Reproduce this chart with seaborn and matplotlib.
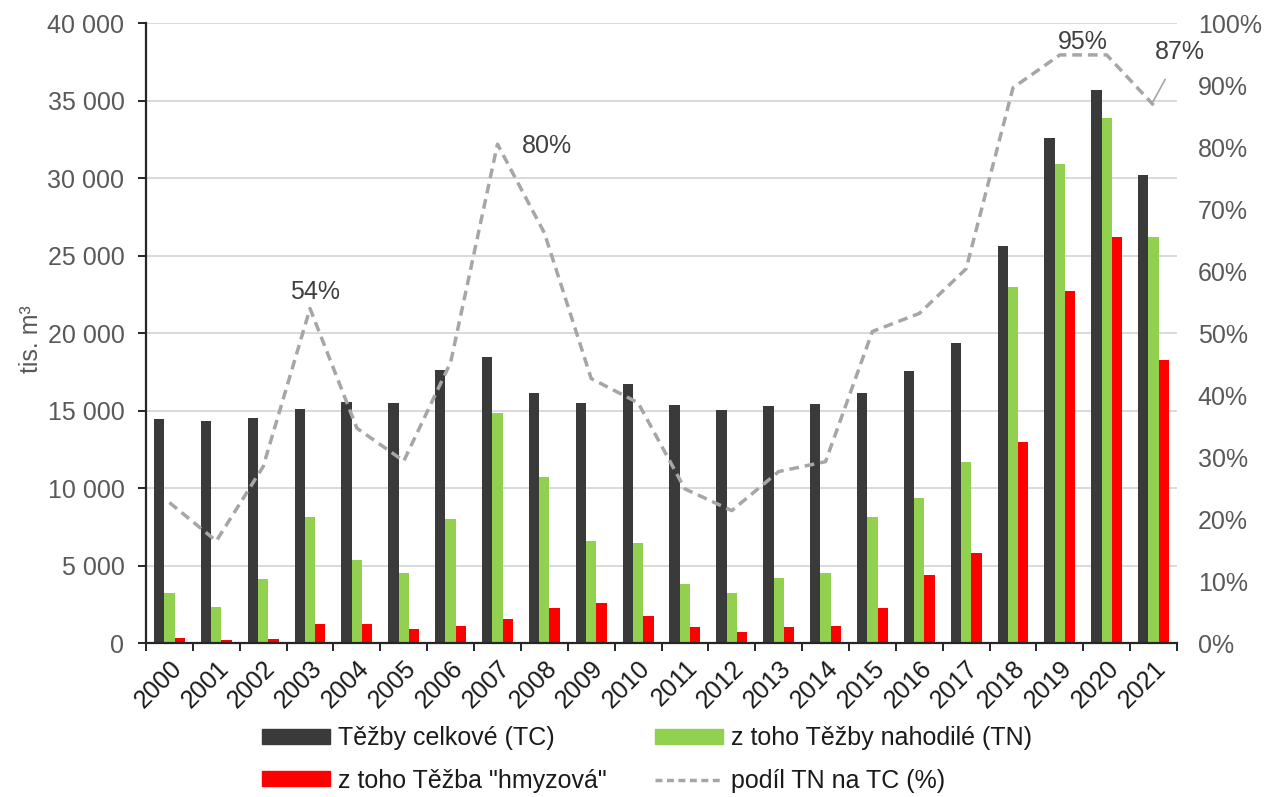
import matplotlib
matplotlib.use("Agg")
import matplotlib.pyplot as plt
import seaborn as sns
import numpy as np
import pandas as pd
from matplotlib.ticker import FuncFormatter, MultipleLocator
from matplotlib.patches import Patch
from matplotlib.lines import Line2D

# ---------------- data ----------------
years = [str(y) for y in range(2000, 2022)]
tc = [14450, 14360, 14530, 15130, 15570, 15480, 17630, 18490, 16170, 15480, 16730,
      15360, 15050, 15310, 15460, 16170, 17590, 19400, 25650, 32580, 35700, 30230]
tn = [3270, 2360, 4170, 8170, 5380, 4520, 8000, 14880, 10710, 6600, 6450,
      3810, 3230, 4230, 4520, 8130, 9360, 11720, 23010, 30930, 33890, 26230]
hm = [320, 210, 280, 1250, 1250, 950, 1120, 1550, 2280, 2620, 1760,
      1070, 750, 1030, 1120, 2300, 4390, 5850, 13010, 22750, 26230, 18280]
pct = [22.7, 16.5, 28.5, 54, 34.7, 29.4, 45.3, 80.5, 66.2, 42.7, 38.8,
       24.9, 21.4, 27.7, 29.3, 50.3, 53.2, 60.4, 89.6, 94.9, 94.9, 86.8]
series_names = ["Těžby celkové (TC)", "z toho Těžby nahodilé (TN)", 'z toho Těžba "hmyzová"']
line_name = "podíl TN na TC (%)"
annot_labels = {3: "54%", 7: "80%", 19: "95%", 21: "87%"}

colors = ["#3a3a3a", "#92d050", "#ff0000"]
line_color = "#a6a6a6"
text_gray = "#595959"
FS = 18

sns.set_theme(style="white")
plt.rcParams["font.family"] = ["Liberation Sans", "DejaVu Sans"]

df = pd.DataFrame({
    "year": years * 3,
    "value": tc + tn + hm,
    "series": [series_names[0]] * len(years) + [series_names[1]] * len(years) + [series_names[2]] * len(years),
})

fig = plt.figure(figsize=(12.67, 7.97), dpi=100)
ax = fig.add_axes([146 / 1267, 1 - 643.3 / 797, (1177 - 146) / 1267, 620 / 797])

sns.barplot(data=df, x="year", y="value", hue="series", hue_order=series_names,
            palette=colors, width=0.66, gap=0, saturation=1, ax=ax, legend=False,
            edgecolor="none", linewidth=0, errorbar=None)

ax.set_xlim(-0.5, len(years) - 0.5)
ax.set_ylim(0, 40000)
ax.yaxis.set_major_locator(MultipleLocator(5000))
ax.yaxis.set_major_formatter(FuncFormatter(lambda v, p: f"{int(v):,}".replace(",", " ")))
ax.grid(axis="y", color="#d9d9d9", lw=1.4)
ax.grid(axis="x", visible=False)
ax.set_axisbelow(True)
for s in ["top", "right"]:
    ax.spines[s].set_visible(False)
for s in ["left", "bottom"]:
    ax.spines[s].set_color("#262626")
    ax.spines[s].set_linewidth(1.6)

ax.set_xticks(np.arange(len(years)))
ax.set_xticklabels(years, rotation=45, ha="right", rotation_mode="anchor",
                   fontsize=FS, color="#1a1a1a")
ax.set_xticks(np.arange(-0.5, len(years), 1), minor=True)
ax.tick_params(axis="x", which="major", length=0, pad=9)
ax.tick_params(axis="x", which="minor", length=6, width=1.4, color="#262626", direction="out", bottom=True)
ax.tick_params(axis="y", length=6, width=1.4, color="#262626", direction="out", left=True,
               labelsize=FS, labelcolor=text_gray, pad=9.5)
ax.set_xlabel("")
ax.set_ylabel("tis. m³", fontsize=FS, color=text_gray)
ax.yaxis.set_label_coords(-0.100, 0.49)

# ---------------- percentage line ----------------
ax2 = ax.twinx()
sns.lineplot(x=np.arange(len(years)), y=pct, ax=ax2, color=line_color, lw=2.5,
             linestyle="--", legend=False)
ax2.lines[0].set_dashes([2.8, 1.7])
ax2.set_ylim(0, 100)
ax2.yaxis.set_major_locator(MultipleLocator(10))
ax2.yaxis.set_major_formatter(FuncFormatter(lambda v, p: f"{v:.0f}%"))
ax2.tick_params(axis="y", length=0, labelsize=FS, labelcolor=text_gray, pad=15)
for s in ax2.spines.values():
    s.set_visible(False)
ax2.set_ylabel("")
ax2.grid(False)

ann_kw = dict(fontsize=FS, color="#404040", ha="center", va="center")
ax2.text(3.1, 56.7, annot_labels[3], **ann_kw)
ax2.text(8.06, 80.2, annot_labels[7], **ann_kw)
ax2.text(19.5, 97.0, annot_labels[19], **ann_kw)
ax2.annotate(annot_labels[21], xy=(20.99, 87.4), xytext=(21.57, 95.4), annotation_clip=False,
             arrowprops=dict(arrowstyle="-", color="#a6a6a6", lw=1.2, shrinkA=10, shrinkB=0),
             **ann_kw)

# ---------------- legend ----------------
handles = [Patch(color=colors[0]), Patch(color=colors[2]), Patch(color=colors[1]),
           Line2D([0], [0], color=line_color, lw=2.5, dashes=[2.0, 1.3])]
labels = [series_names[0], series_names[2], series_names[1], line_name]
fig.legend(handles, labels, ncol=2, loc="upper center", bbox_to_anchor=(0.5106, 1 - 726 / 797),
           frameon=False, fontsize=FS, handlelength=2.72, handleheight=0.55,
           handletextpad=0.3, columnspacing=1.94, labelspacing=0.75,
           borderpad=0, borderaxespad=0, labelcolor="#1a1a1a")

fig.savefig("out.png", dpi=100)
